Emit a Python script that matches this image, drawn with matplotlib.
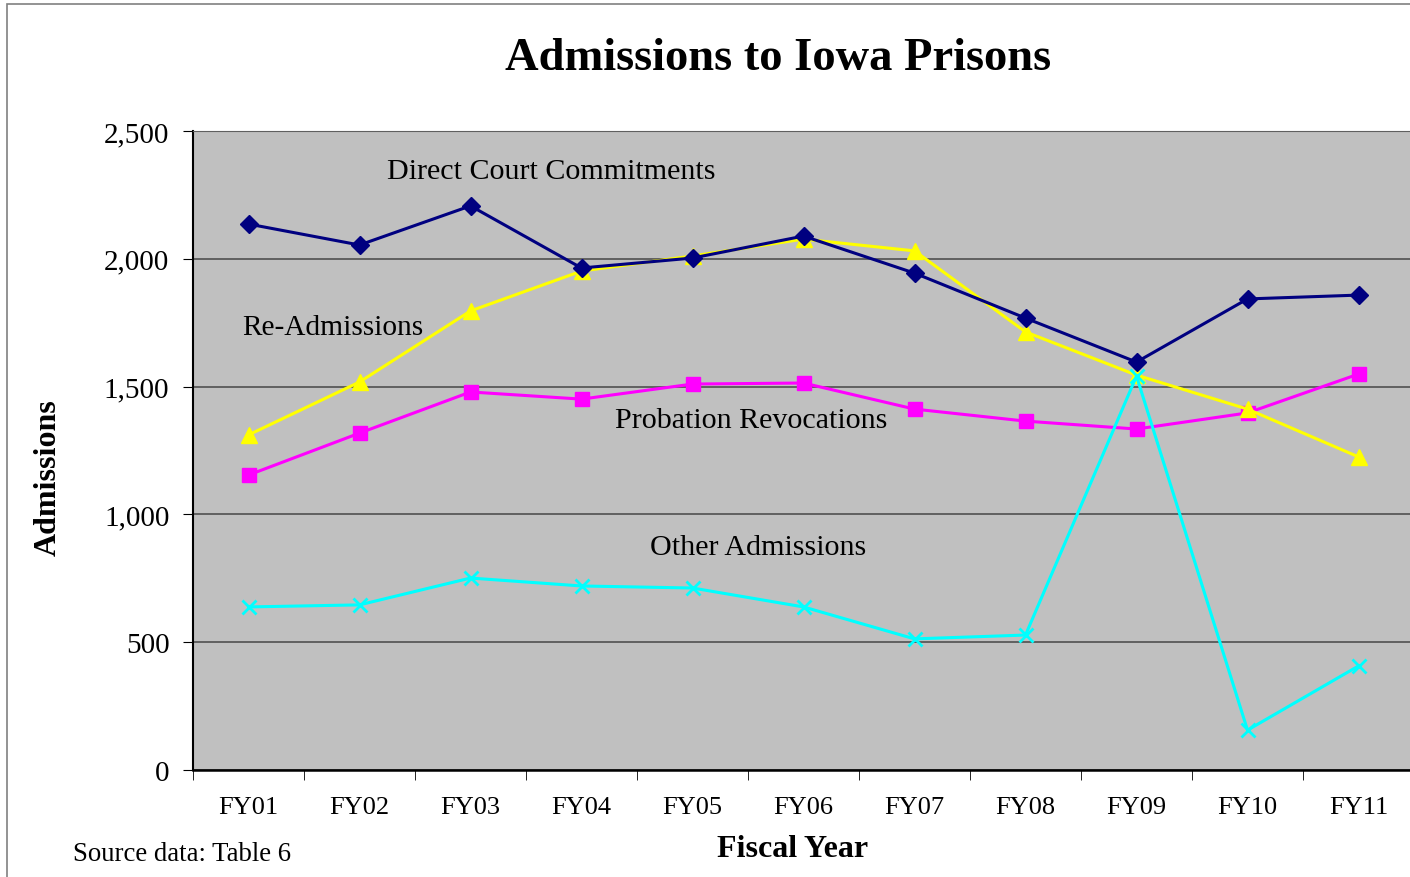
import matplotlib
matplotlib.use("Agg")
import matplotlib.pyplot as plt
from matplotlib.patches import Rectangle

years = ["FY01", "FY02", "FY03", "FY04", "FY05", "FY06", "FY07", "FY08", "FY09", "FY10", "FY11"]
direct_court = [2136, 2054, 2207, 1964, 2003, 2089, 1944, 1768, 1596, 1843, 1858]
re_admissions = [1311, 1518, 1796, 1952, 2011, 2077, 2031, 1714, 1545, 1412, 1225]
probation_rev = [1154, 1318, 1479, 1451, 1510, 1514, 1412, 1365, 1334, 1397, 1549]
other_adm = [638, 646, 751, 720, 712, 638, 513, 528, 1541, 156, 407]
yticks = [0, 500, 1000, 1500, 2000, 2500]

plt.rcParams['font.family'] = ['Liberation Serif', 'DejaVu Serif']

fig = plt.figure(figsize=(14.1, 8.78), dpi=100)
fig.patch.set_facecolor('white')
# outer chart frame
fig.add_artist(Rectangle((7/1410, -0.05), 1.1, 1 - 5/878 + 0.05, transform=fig.transFigure,
                         fill=False, edgecolor='#808080', linewidth=1.2))

ax = fig.add_axes([193/1410, 1 - 771/878, 1221/1410, (771 - 132)/878])
ax.set_facecolor('#C0C0C0')

x = list(range(1, len(years) + 1))
ax.plot(x, direct_court, color='#000080', lw=2.2, marker='D', ms=9, zorder=5)
ax.plot(x, re_admissions, color='#FFFF00', lw=2.2, marker='^', ms=11, zorder=4)
ax.plot(x, probation_rev, color='#FF00FF', lw=2.2, marker='s', ms=10, zorder=3)
ax.plot(x, other_adm, color='#00FFFF', lw=2.2, marker='x', ms=10, mew=2, zorder=6)

ax.set_xlim(0.5, len(years) + 0.5)
ax.set_ylim(0, 2500)
ax.set_yticks(yticks)
ax.set_yticklabels([f"{v:,}" for v in yticks], fontsize=21)
ax.set_xticks(x)
ax.set_xticklabels(years, fontsize=19)
ax.tick_params(axis='x', which='major', length=0, pad=19)
ax.set_xticks([i + 0.5 for i in range(len(years) + 1)], minor=True)
ax.tick_params(axis='x', which='minor', length=7, direction='out', color='black')
ax.tick_params(axis='y', length=7, direction='out', pad=10)

ax.grid(axis='y', color='#505050', lw=1.2)
ax.set_axisbelow(True)
ax.spines['right'].set_visible(False)
ax.spines['top'].set_color('#606060')
ax.spines['left'].set_linewidth(1.5)
ax.spines['bottom'].set_linewidth(1.8)

ax.text(2.25, 2343, "Direct Court Commitments", fontsize=21.6, va='center', ha='left')
ax.text(0.94, 1733, "Re-Admissions", fontsize=21.2, va='center', ha='left')
ax.text(4.30, 1369, "Probation Revocations", fontsize=21.6, va='center', ha='left')
ax.text(4.62, 872, "Other Admissions", fontsize=21.6, va='center', ha='left')

fig.text(778/1410, 1 - 59/878, "Admissions to Iowa Prisons", fontsize=33.5, fontweight='bold',
         ha='center', va='center')
fig.text(48/1410, 1 - 478/878, "Admissions", fontsize=23, fontweight='bold', rotation=90,
         ha='center', va='center')
fig.text(793/1410, 1 - 850/878, "Fiscal Year", fontsize=23, fontweight='bold',
         ha='center', va='center')
fig.text(73/1410, 1 - 855/878, "Source data: Table 6", fontsize=19.3, ha='left', va='center')

fig.savefig("out.png", dpi=100)
